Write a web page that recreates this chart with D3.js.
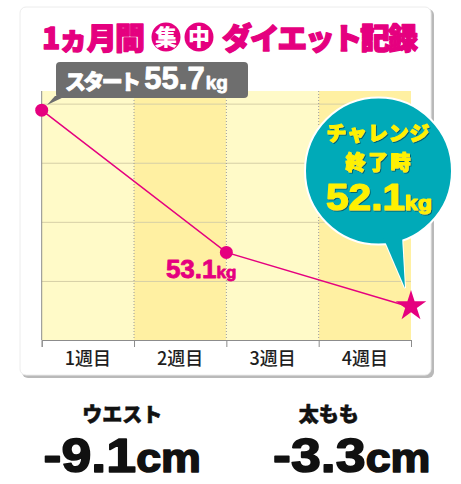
<!DOCTYPE html>
<html>
<head>
<meta charset="utf-8">
<script src="https://cdn.jsdelivr.net/npm/d3@7"></script>
<style>
  body { margin: 0; background: #fff; }
  svg { display: block; }
</style>
</head>
<body>
<script>
// ---- data ----
const weekLabels = ["1週目", "2週目", "3週目", "4週目"];
const weekIdx = [0, 1, 2, 3, 4];
const pointWeeks = [0, 2, 4];
const weights = [55.7, 53.1, 52.1];
const gridValues = [52.57, 53.65, 54.73, 55.81];
const statNames = ["ウエスト", "太もも"];
const statDiffs = ["-9.1", "-3.3"];
const statUnit = "cm";

const pink = "#e5007f",
    teal = "#00aab8",
    yel = "#fff100",
    light_col = "#fffac8",
    dark_col = "#fff0a2";

const jp = '"Noto Sans CJK JP", sans-serif',
    num = '"Liberation Sans", Arial, sans-serif';

const W = 461, H = 484;

var svg = d3.select("body").append("svg")
    .attr("width", W)
    .attr("height", H);

svg.append("defs")
  .append("filter")
    .attr("id", "tshadow")
    .append("feDropShadow")
    .attr("dx", 1).attr("dy", 1)
    .attr("stdDeviation", 0.4)
    .attr("flood-color", "#00666e");

// thicker strokes for the heavy lettering
function heavy(sel, col, w) {
    return sel.attr("stroke", col)
        .attr("stroke-width", w)
        .attr("stroke-linejoin", "round")
        .attr("paint-order", "stroke");
}

// ==== card ====
svg.append("rect")
    .attr("x", 22).attr("y", 9)
    .attr("width", 412).attr("height", 369)
    .attr("rx", 6)
    .attr("fill", "#b9b9b9");
svg.append("rect")
    .attr("x", 20).attr("y", 7)
    .attr("width", 411).attr("height", 368)
    .attr("rx", 6)
    .attr("fill", "white")
    .attr("stroke", "#ececec");

// ==== title ====
var title = svg.append("g");
heavy(title.append("text")
    .attr("x", 42).attr("y", 49)
    .attr("font-family", jp).attr("font-weight", 900)
    .attr("font-size", "30px").attr("fill", pink)
    .attr("textLength", 103)
    .text("1ヵ月間"), pink, 1.3);
["集", "中"].forEach(function(c, i) {
    var cx = 166 + i * 33;
    title.append("circle")
        .attr("cx", cx).attr("cy", 37).attr("r", 14.5)
        .attr("fill", pink);
    title.append("text")
        .attr("x", cx).attr("y", 45)
        .attr("text-anchor", "middle")
        .attr("font-family", jp).attr("font-weight", 900)
        .attr("font-size", "22px").attr("fill", "white")
        .text(c);
});
heavy(title.append("text")
    .attr("x", 222).attr("y", 49)
    .attr("font-family", jp).attr("font-weight", 900)
    .attr("font-size", "30px").attr("fill", pink)
    .attr("textLength", 196)
    .text("ダイエット記録"), pink, 1.3);

// ==== scales ====
var x = d3.scaleLinear().domain([0, 4]).range([41.7, 411]);
var y = d3.scaleLinear().domain([51.5, 56.05]).range([340, 91]);

var plot = svg.append("g");

// column bands
plot.selectAll("rect.col")
    .data(weekLabels)
    .join("rect")
    .attr("class", "col")
    .attr("x", (d, i) => x(i))
    .attr("y", y(56.05))
    .attr("width", (d, i) => x(i + 1) - x(i))
    .attr("height", y(51.5) - y(56.05))
    .attr("fill", (d, i) => i % 2 ? dark_col : light_col);

// horizontal grid
plot.selectAll("line.grid")
    .data(gridValues)
    .join("line")
    .attr("class", "grid")
    .attr("x1", x(0)).attr("x2", x(4))
    .attr("y1", d => y(d)).attr("y2", d => y(d))
    .attr("stroke", "#d6cfa6")
    .attr("stroke-width", 1);

// dotted week separators
plot.selectAll("line.sep")
    .data([1, 2, 3])
    .join("line")
    .attr("class", "sep")
    .attr("x1", d => x(d)).attr("x2", d => x(d))
    .attr("y1", y(56.05)).attr("y2", y(51.5))
    .attr("stroke", "#9a9a9a")
    .attr("stroke-dasharray", "1,2");

// left axis
plot.append("line")
    .attr("x1", x(0)).attr("x2", x(0))
    .attr("y1", y(56.05)).attr("y2", y(51.5))
    .attr("stroke", "#8c8c8c");

// bottom axis
var xAxis = d3.axisBottom(x)
    .tickValues(weekIdx)
    .tickSize(7)
    .tickFormat("");
plot.append("g")
    .attr("transform", "translate(0," + y(51.5) + ")")
    .call(xAxis)
    .call(g => g.selectAll("path, line").attr("stroke", "#8c8c8c"));

plot.selectAll("text.week")
    .data(weekLabels)
    .join("text")
    .attr("class", "week")
    .attr("x", (d, i) => x(i + 0.5))
    .attr("y", 365)
    .attr("text-anchor", "middle")
    .attr("font-family", jp).attr("font-weight", 500)
    .attr("font-size", "18px").attr("fill", "#1e1e1e")
    .text(d => d);

// ==== line ====
var pts = pointWeeks.map((w, i) => [w, weights[i]]);
plot.append("path")
    .datum(pts)
    .attr("d", d3.line().x(d => x(d[0])).y(d => y(d[1])))
    .attr("fill", "none")
    .attr("stroke", pink)
    .attr("stroke-width", 1.5);

plot.selectAll("circle.pt")
    .data(pts.slice(0, 2))
    .join("circle")
    .attr("class", "pt")
    .attr("cx", d => x(d[0])).attr("cy", d => y(d[1]))
    .attr("r", 6.5)
    .attr("fill", pink);

// ==== start bubble ====
var sb = svg.append("g");
sb.append("path")
    .attr("d", "M55,96 L47,105 L66,96 Z")
    .attr("fill", "#6e6e6e");
sb.append("rect")
    .attr("x", 56).attr("y", 62)
    .attr("width", 192).attr("height", 36)
    .attr("rx", 4)
    .attr("fill", "#6e6e6e");
var st = heavy(sb.append("text")
    .attr("x", 65).attr("y", 89)
    .attr("fill", "white"), "white", 0.8);
st.append("tspan")
    .attr("font-family", jp).attr("font-weight", 900)
    .attr("font-size", "21px")
    .attr("textLength", 76)
    .text("スタート");
st.append("tspan")
    .attr("dx", 6)
    .attr("font-family", num).attr("font-weight", 700)
    .attr("font-size", "31px")
    .text(weights[0]);
st.append("tspan")
    .attr("dx", 1)
    .attr("font-family", num).attr("font-weight", 700)
    .attr("font-size", "19px")
    .text("kg");

// mid label
var ml = heavy(svg.append("text")
    .attr("x", x(pointWeeks[1]) + 10)
    .attr("y", 278)
    .attr("text-anchor", "end")
    .attr("fill", pink)
    .attr("font-family", num).attr("font-weight", 700), pink, 0.8);
ml.append("tspan").attr("font-size", "26px").text(weights[1]);
ml.append("tspan").attr("font-size", "17px").text("kg");

// ==== goal bubble ====
var gb = svg.append("g");
var tail = "M381,232 L405,288 L402,236 Z";
gb.append("path").attr("d", tail)
    .attr("fill", teal).attr("stroke", "white").attr("stroke-width", 2);
gb.append("circle")
    .attr("cx", 378.5).attr("cy", 171).attr("r", 73.5)
    .attr("fill", teal).attr("stroke", "white").attr("stroke-width", 2);
gb.append("path").attr("d", tail).attr("fill", teal);

var gt = gb.append("g").attr("filter", "url(#tshadow)");
heavy(gt.append("text")
    .attr("x", 378).attr("y", 141)
    .attr("text-anchor", "middle")
    .attr("font-family", jp).attr("font-weight", 900)
    .attr("font-size", "20px").attr("fill", yel)
    .attr("textLength", 103)
    .text("チャレンジ"), yel, 1);
heavy(gt.append("text")
    .attr("x", 378).attr("y", 169.5)
    .attr("text-anchor", "middle")
    .attr("font-family", jp).attr("font-weight", 900)
    .attr("font-size", "20px").attr("fill", yel)
    .attr("textLength", 65)
    .text("終了時"), yel, 1);
var gn = heavy(gt.append("text")
    .attr("transform", "translate(379,210) scale(1.1,1)")
    .attr("text-anchor", "middle")
    .attr("font-family", num).attr("font-weight", 700)
    .attr("fill", yel), yel, 1.2);
gn.append("tspan").attr("font-size", "37px").text(weights[2]);
gn.append("tspan").attr("font-size", "21px").text("kg");

// star
plot.append("path")
    .attr("transform", "translate(" + x(pointWeeks[2]) + "," + (y(weights[2]) - 1) + ")")
    .attr("d", d3.symbol(d3.symbolStar, 290)())
    .attr("fill", pink);

// ==== stats ====
var sx = d3.scaleBand().domain(statNames).range([20, 433]);
var vOff = [-1, 22];
statNames.forEach(function(n, i) {
    var cx = sx(n) + sx.bandwidth() / 2;
    heavy(svg.append("text")
        .attr("x", cx - 1).attr("y", 422)
        .attr("text-anchor", "middle")
        .attr("font-family", jp).attr("font-weight", 900)
        .attr("font-size", "20px").attr("fill", "#111"), "#111", 0.6)
        .text(n);
    var t = heavy(svg.append("text")
        .attr("transform", "translate(" + (cx + vOff[i]) + ",472) scale(1.12,1)")
        .attr("text-anchor", "middle")
        .attr("font-family", num).attr("font-weight", 700)
        .attr("fill", "#111"), "#111", 1.6);
    t.append("tspan").attr("font-size", "48px").text(statDiffs[i]);
    t.append("tspan").attr("font-size", "40px").text(statUnit);
});
</script>
</body>
</html>
